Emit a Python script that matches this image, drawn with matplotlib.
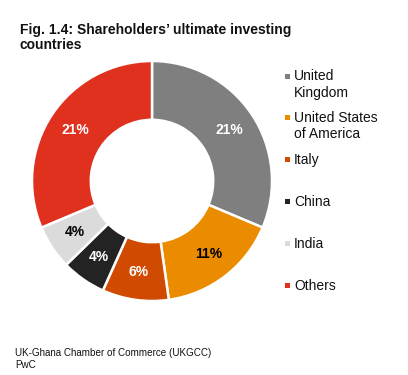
import matplotlib
matplotlib.use("Agg")
import matplotlib.pyplot as plt
from matplotlib.patches import Rectangle

plt.rcParams['font.family'] = ['Liberation Sans', 'DejaVu Sans']

categories = ["United\nKingdom", "United States\nof America", "Italy", "China", "India", "Others"]
values = [21, 11, 6, 4, 4, 21]
value_labels = ["21%", "11%", "6%", "4%", "4%", "21%"]
colors = ["#7f7f7f", "#eb8c00", "#d04a02", "#232323", "#dbdbdb", "#e0301e"]
label_colors = ["white", "black", "white", "white", "black", "white"]

W, H = 408, 375
fig = plt.figure(figsize=(W / 100, H / 100), dpi=100)

cx, cy, r = 152, 181, 120
ax = fig.add_axes([(cx - r) / W, (H - cy - r) / H, 2 * r / W, 2 * r / H])
wedges, texts = ax.pie(values, labels=value_labels, colors=colors, startangle=90,
                       counterclock=False, radius=1.0, labeldistance=0.77,
                       wedgeprops=dict(width=0.49, edgecolor="white", linewidth=1.8),
                       textprops=dict(fontsize=10, fontweight="bold", ha="center", va="center"))
for t, c in zip(texts, label_colors):
    t.set_color(c)
    t.set_ha("center")
    t.set_va("center")
ax.set_xlim(-1, 1)
ax.set_ylim(-1, 1)
ax.set_aspect("equal")
ax.axis("off")

fig.text(20 / W, 1 - 23 / H, "Fig. 1.4: Shareholders\u2019 ultimate investing\ncountries",
         fontsize=10, fontweight="bold", va="top", ha="left", linespacing=1.12,
         color="#111111")

# legend
y_first = 76
step = 41.8
for i, (name, col) in enumerate(zip(categories, colors)):
    y = y_first + i * step
    fig.patches.append(Rectangle(((285) / W, 1 - (y + 2.5) / H), 5 / W, 5 / H,
                                 transform=fig.transFigure, facecolor=col, edgecolor="none"))
    fig.text(294 / W, 1 - (y - 6.5) / H, name, fontsize=10, va="top", ha="left",
             linespacing=1.2, color="#111111")

fig.text(15 / W, 1 - 348 / H, "UK-Ghana Chamber of Commerce (UKGCC)\nPwC",
         fontsize=7.1, va="top", ha="left", linespacing=1.2, color="#111111")

fig.savefig("out.png", dpi=100)
